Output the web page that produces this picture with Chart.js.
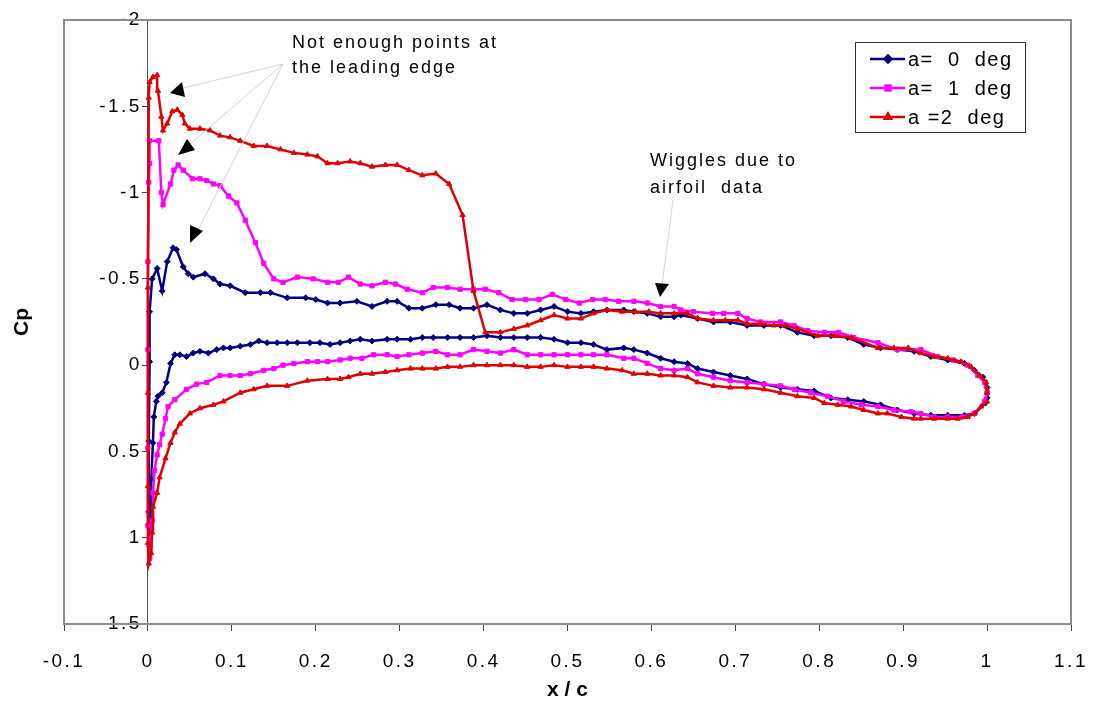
<!DOCTYPE html>
<html>
<head>
<meta charset="utf-8">
<script src="https://cdn.jsdelivr.net/npm/chart.js@4.4.1/dist/chart.umd.min.js"></script>
<style>
  html, body { margin: 0; padding: 0; background: #fff; }
  #wrap { width: 1094px; height: 702px; }
</style>
</head>
<body>
<div id="wrap"><canvas id="cpChart" width="1094" height="702"></canvas></div>
<script>
// series labels
const seriesNames = ["a=  0  deg", "a=  1  deg", "a =2  deg"]

// a = 0 deg : trailing edge -> upper surface -> leading edge -> lower surface -> trailing edge
const x0 = [1.0, 1.0, 0.995, 0.985, 0.973, 0.953, 0.933, 0.913, 0.893, 0.873, 0.853, 0.834, 0.814, 0.794, 0.774, 0.754, 0.734, 0.714, 0.694, 0.674, 0.655, 0.635, 0.627, 0.611, 0.595, 0.579, 0.567, 0.547, 0.531, 0.516, 0.5, 0.484, 0.468, 0.452, 0.436, 0.42, 0.404, 0.388, 0.372, 0.359, 0.343, 0.327, 0.311, 0.297, 0.285, 0.267, 0.249, 0.229, 0.214, 0.2, 0.188, 0.166, 0.146, 0.134, 0.116, 0.098, 0.086, 0.078, 0.068, 0.054, 0.048, 0.042, 0.034, 0.03, 0.023, 0.017, 0.011, 0.005, 0.002, 0.002, 0.001, 0.001, 0.002, 0.003, 0.004, 0.006, 0.007, 0.01, 0.012, 0.017, 0.022, 0.027, 0.032, 0.038, 0.046, 0.054, 0.062, 0.072, 0.082, 0.09, 0.098, 0.11, 0.122, 0.132, 0.142, 0.154, 0.166, 0.178, 0.193, 0.205, 0.217, 0.229, 0.241, 0.253, 0.267, 0.285, 0.297, 0.313, 0.327, 0.34, 0.357, 0.372, 0.388, 0.404, 0.42, 0.436, 0.452, 0.468, 0.484, 0.5, 0.516, 0.531, 0.547, 0.567, 0.579, 0.595, 0.611, 0.627, 0.643, 0.655, 0.674, 0.694, 0.714, 0.734, 0.754, 0.774, 0.794, 0.814, 0.834, 0.853, 0.873, 0.893, 0.913, 0.933, 0.953, 0.973, 0.985, 0.998, 1.0]
const cp0 = [0.19, 0.13, 0.07, 0.03, -0.01, -0.03, -0.05, -0.08, -0.09, -0.1, -0.12, -0.16, -0.17, -0.17, -0.19, -0.23, -0.23, -0.23, -0.25, -0.25, -0.27, -0.29, -0.28, -0.28, -0.3, -0.31, -0.32, -0.32, -0.31, -0.3, -0.31, -0.34, -0.32, -0.3, -0.3, -0.32, -0.35, -0.33, -0.33, -0.35, -0.35, -0.33, -0.33, -0.37, -0.37, -0.34, -0.37, -0.36, -0.36, -0.38, -0.39, -0.39, -0.42, -0.42, -0.42, -0.46, -0.47, -0.5, -0.53, -0.51, -0.53, -0.57, -0.67, -0.68, -0.6, -0.43, -0.56, -0.5, -0.31, -0.02, 0.44, 0.85, 1.05, 0.93, 0.66, 0.45, 0.3, 0.21, 0.18, 0.16, 0.1, -0.01, -0.06, -0.06, -0.05, -0.07, -0.08, -0.07, -0.09, -0.1, -0.1, -0.11, -0.12, -0.14, -0.13, -0.13, -0.13, -0.13, -0.13, -0.13, -0.12, -0.13, -0.14, -0.15, -0.14, -0.15, -0.15, -0.15, -0.16, -0.16, -0.16, -0.16, -0.16, -0.17, -0.16, -0.16, -0.16, -0.16, -0.15, -0.13, -0.13, -0.12, -0.09, -0.1, -0.09, -0.07, -0.04, -0.02, -0.01, 0.02, 0.04, 0.06, 0.08, 0.11, 0.13, 0.14, 0.15, 0.19, 0.2, 0.21, 0.23, 0.26, 0.28, 0.29, 0.29, 0.29, 0.28, 0.22, 0.19]

// a = 1 deg
const x1 = [1.0, 0.997, 0.989, 0.977, 0.96, 0.941, 0.921, 0.893, 0.87, 0.841, 0.823, 0.806, 0.786, 0.77, 0.754, 0.73, 0.714, 0.703, 0.686, 0.673, 0.65, 0.635, 0.627, 0.611, 0.595, 0.579, 0.561, 0.545, 0.53, 0.514, 0.498, 0.482, 0.466, 0.45, 0.434, 0.418, 0.402, 0.388, 0.372, 0.357, 0.34, 0.327, 0.309, 0.295, 0.283, 0.267, 0.253, 0.239, 0.227, 0.214, 0.197, 0.178, 0.161, 0.15, 0.138, 0.128, 0.116, 0.106, 0.096, 0.086, 0.078, 0.07, 0.062, 0.053, 0.042, 0.036, 0.031, 0.027, 0.018, 0.016, 0.013, 0.002, 0.002, 0.001, 0.0, 0.0, 0.0, 0.0, 0.002, 0.005, 0.006, 0.008, 0.011, 0.014, 0.017, 0.021, 0.024, 0.032, 0.046, 0.058, 0.07, 0.086, 0.098, 0.11, 0.122, 0.138, 0.15, 0.161, 0.174, 0.19, 0.202, 0.214, 0.229, 0.241, 0.255, 0.269, 0.285, 0.297, 0.311, 0.327, 0.343, 0.357, 0.372, 0.388, 0.404, 0.42, 0.436, 0.452, 0.468, 0.484, 0.5, 0.516, 0.531, 0.547, 0.567, 0.579, 0.595, 0.611, 0.627, 0.643, 0.655, 0.674, 0.694, 0.714, 0.734, 0.754, 0.77, 0.79, 0.81, 0.829, 0.85, 0.87, 0.889, 0.909, 0.921, 0.937, 0.953, 0.97, 0.985, 0.997, 1.0]
const cp1 = [0.16, 0.1, 0.06, 0.0, -0.03, -0.05, -0.09, -0.09, -0.13, -0.16, -0.19, -0.19, -0.2, -0.23, -0.25, -0.25, -0.27, -0.3, -0.3, -0.3, -0.31, -0.32, -0.34, -0.34, -0.36, -0.37, -0.37, -0.38, -0.38, -0.36, -0.38, -0.41, -0.38, -0.38, -0.38, -0.42, -0.44, -0.44, -0.44, -0.45, -0.45, -0.42, -0.44, -0.47, -0.48, -0.46, -0.47, -0.51, -0.48, -0.48, -0.5, -0.51, -0.48, -0.5, -0.59, -0.71, -0.84, -0.94, -0.98, -1.04, -1.05, -1.07, -1.08, -1.08, -1.13, -1.16, -1.13, -1.05, -0.93, -1.0, -1.3, -1.3, -1.17, -1.06, -0.6, -0.09, 0.48, 0.93, 1.12, 0.9, 0.74, 0.61, 0.52, 0.46, 0.4, 0.31, 0.24, 0.2, 0.14, 0.11, 0.1, 0.06, 0.06, 0.06, 0.05, 0.03, 0.02, 0.0, -0.01, -0.02, -0.02, -0.02, -0.03, -0.04, -0.04, -0.06, -0.06, -0.05, -0.06, -0.07, -0.08, -0.06, -0.06, -0.09, -0.08, -0.07, -0.09, -0.06, -0.06, -0.06, -0.06, -0.06, -0.06, -0.06, -0.04, -0.04, -0.01, 0.02, 0.03, 0.02, 0.05, 0.07, 0.09, 0.1, 0.11, 0.12, 0.14, 0.16, 0.18, 0.21, 0.23, 0.24, 0.26, 0.27, 0.28, 0.3, 0.3, 0.3, 0.28, 0.21, 0.16]

// a = 2 deg
const x2 = [1.0, 0.999, 0.991, 0.981, 0.969, 0.953, 0.937, 0.921, 0.906, 0.889, 0.87, 0.838, 0.818, 0.798, 0.774, 0.76, 0.746, 0.73, 0.714, 0.703, 0.688, 0.674, 0.655, 0.643, 0.627, 0.611, 0.597, 0.581, 0.565, 0.547, 0.531, 0.516, 0.5, 0.484, 0.468, 0.452, 0.436, 0.42, 0.402, 0.388, 0.375, 0.359, 0.343, 0.327, 0.311, 0.297, 0.283, 0.267, 0.253, 0.241, 0.226, 0.214, 0.202, 0.19, 0.174, 0.158, 0.142, 0.126, 0.11, 0.098, 0.086, 0.074, 0.062, 0.05, 0.044, 0.041, 0.035, 0.029, 0.023, 0.018, 0.016, 0.012, 0.011, 0.006, 0.002, 0.001, 0.0, 0.0, 0.0, 0.0, 0.001, 0.004, 0.005, 0.006, 0.011, 0.014, 0.021, 0.027, 0.032, 0.038, 0.05, 0.062, 0.078, 0.09, 0.11, 0.126, 0.142, 0.166, 0.19, 0.214, 0.229, 0.239, 0.253, 0.267, 0.283, 0.297, 0.313, 0.327, 0.343, 0.357, 0.372, 0.388, 0.404, 0.42, 0.436, 0.452, 0.468, 0.484, 0.5, 0.516, 0.531, 0.547, 0.565, 0.579, 0.595, 0.611, 0.627, 0.643, 0.655, 0.674, 0.694, 0.714, 0.734, 0.754, 0.774, 0.794, 0.806, 0.822, 0.838, 0.853, 0.87, 0.881, 0.898, 0.913, 0.921, 0.937, 0.953, 0.965, 0.977, 0.985, 0.993, 1.0]
const cp2 = [0.16, 0.1, 0.06, 0.01, -0.02, -0.04, -0.05, -0.07, -0.1, -0.1, -0.1, -0.16, -0.17, -0.17, -0.21, -0.23, -0.23, -0.24, -0.24, -0.26, -0.26, -0.26, -0.27, -0.3, -0.3, -0.3, -0.31, -0.31, -0.31, -0.32, -0.3, -0.27, -0.27, -0.29, -0.26, -0.23, -0.21, -0.19, -0.19, -0.43, -0.87, -1.05, -1.11, -1.1, -1.13, -1.16, -1.16, -1.15, -1.17, -1.18, -1.17, -1.17, -1.21, -1.22, -1.23, -1.25, -1.27, -1.27, -1.3, -1.32, -1.33, -1.36, -1.37, -1.37, -1.4, -1.45, -1.48, -1.47, -1.4, -1.36, -1.44, -1.59, -1.68, -1.67, -1.64, -1.55, -0.45, 0.16, 0.7, 1.03, 1.15, 1.09, 0.97, 0.82, 0.74, 0.65, 0.54, 0.45, 0.39, 0.34, 0.28, 0.25, 0.23, 0.21, 0.16, 0.14, 0.12, 0.12, 0.09, 0.08, 0.08, 0.07, 0.05, 0.05, 0.04, 0.03, 0.02, 0.02, 0.02, 0.01, 0.01, 0.0, 0.0, 0.0, 0.0, 0.01, 0.01, 0.0, 0.01, 0.01, 0.01, 0.02, 0.03, 0.05, 0.05, 0.06, 0.06, 0.07, 0.1, 0.12, 0.13, 0.13, 0.14, 0.16, 0.18, 0.19, 0.22, 0.23, 0.24, 0.26, 0.28, 0.28, 0.3, 0.31, 0.31, 0.31, 0.31, 0.31, 0.3, 0.28, 0.24, 0.21]

// axis ticks
const xTicks = { min: -0.1, max: 1.1, step: 0.1 }
const yTicks = { min: -2, max: 1.5, step: 0.5 }

const colors = ["#000080", "#ff00ff", "#e00000"]
const markers = ["rectRot", "rect", "triangle"]
const FONT = "'Liberation Sans', Arial, sans-serif"

function pts(xs, ys) {
    return xs.map((x, i) => ({ x: x, y: ys[i] }))
}

const fmt = (v) => String(Math.round(v * 10) / 10)

const extras = {
    id: "extras",
    beforeDraw(chart) {
        chart.ctx.letterSpacing = "2.5px"
        // pull the y labels off the axis line (object-positioned axis draws them flush)
        const items = chart.scales.y.getLabelItems(chart.chartArea)
        if (!items._shifted) {
            items.forEach(it => { it.options.translation[0] -= 6 })
            items._shifted = true
        }
    },
    beforeDatasetsDraw(chart) {
        const { ctx, chartArea: a } = chart
        ctx.save()
        ctx.strokeStyle = "#8c8c8c"
        ctx.lineWidth = 2
        ctx.strokeRect(a.left, a.top, a.right - a.left, a.bottom - a.top)
        ctx.restore()
    },
    afterDraw(chart) {
        const ctx = chart.ctx
        const a = chart.chartArea
        ctx.save()
        ctx.letterSpacing = "0px"
        ctx.fillStyle = "#000"

        // axis titles
        ctx.font = "bold 21px " + FONT
        ctx.textAlign = "center"
        ctx.textBaseline = "middle"
        ctx.fillText("x / c", (a.left + a.right) / 2, 690)
        ctx.save()
        ctx.translate(22, (a.top + a.bottom) / 2)
        ctx.rotate(-Math.PI / 2)
        ctx.fillText("Cp", 0, 0)
        ctx.restore()

        // annotation leader lines
        ctx.strokeStyle = "#d4d4d4"
        ctx.lineWidth = 1
        const leaders = [[283, 64, 183, 88], [283, 64, 190, 144], [283, 64, 198, 230], [673, 200, 662, 285]]
        leaders.forEach(l => {
            ctx.beginPath()
            ctx.moveTo(l[0], l[1])
            ctx.lineTo(l[2], l[3])
            ctx.stroke()
        })

        // arrow heads
        const heads = [
            [[170, 93], [182, 82], [185, 97]],
            [[178, 155], [187, 139], [195, 150]],
            [[190, 225], [190, 243], [203, 231]],
            [[655, 283], [669, 284], [660, 297]],
        ]
        heads.forEach(h => {
            ctx.beginPath()
            ctx.moveTo(h[0][0], h[0][1])
            ctx.lineTo(h[1][0], h[1][1])
            ctx.lineTo(h[2][0], h[2][1])
            ctx.closePath()
            ctx.fill()
        })

        // annotation text
        ctx.font = "18px " + FONT
        ctx.letterSpacing = "2px"
        ctx.textAlign = "left"
        ctx.fillText("Not enough points at", 292, 43)
        ctx.fillText("the leading edge", 292, 68)
        ctx.fillText("Wiggles due to", 650, 161)
        ctx.fillText("airfoil  data", 650, 188)

        // legend
        ctx.letterSpacing = "1.5px"
        ctx.strokeStyle = "#333"
        ctx.lineWidth = 1
        ctx.strokeRect(855.5, 42.5, 170, 90)
        ctx.font = "20px " + FONT
        const rows = [59, 88, 117]
        rows.forEach((y, i) => {
            ctx.strokeStyle = colors[i]
            ctx.fillStyle = colors[i]
            ctx.lineWidth = 2.5
            ctx.beginPath()
            ctx.moveTo(870, y)
            ctx.lineTo(905, y)
            ctx.stroke()
            Chart.helpers.drawPoint(ctx, { pointStyle: markers[i], radius: 3.5, borderWidth: 1 }, 888, y)
            ctx.fillStyle = "#000"
            ctx.fillText(seriesNames[i], 908, y + 1)
        })
        ctx.restore()
    },
}

const allX = [x0, x1, x2]
const allCp = [cp0, cp1, cp2]

new Chart(document.getElementById("cpChart").getContext("2d"), {
    type: "line",
    data: {
        datasets: allX.map((xs, i) => ({
            label: seriesNames[i],
            data: pts(xs, allCp[i]),
            borderColor: colors[i],
            backgroundColor: colors[i],
            borderWidth: 2.5,
            pointStyle: markers[i],
            pointRadius: 3,
            pointBorderWidth: 1,
            tension: 0,
            fill: false,
            order: 2 - i,
        })),
    },
    options: {
        responsive: false,
        animation: false,
        events: [],
        layout: { padding: { left: 64, right: 23, top: 20, bottom: 0 } },
        plugins: {
            legend: { display: false },
            tooltip: { enabled: false },
        },
        scales: {
            x: {
                type: "linear",
                position: "bottom",
                min: xTicks.min,
                max: xTicks.max,
                afterFit: (s) => {
                    s.height = 78
                    s.paddingLeft = 0
                    s.paddingRight = 0
                },
                ticks: {
                    stepSize: xTicks.step,
                    callback: fmt,
                    color: "#000",
                    font: { family: FONT, size: 19 },
                    padding: 19,
                    maxRotation: 0,
                    autoSkip: false,
                },
                grid: { drawOnChartArea: false, drawTicks: true, tickLength: 7, color: "#444" },
                border: { display: true, color: "#333", width: 2 },
            },
            y: {
                type: "linear",
                reverse: true,
                position: { x: 0 },
                min: yTicks.min,
                max: yTicks.max,
                ticks: {
                    stepSize: yTicks.step,
                    callback: fmt,
                    color: "#000",
                    font: { family: FONT, size: 19 },
                },
                grid: { drawOnChartArea: false, drawTicks: true, tickLength: 5, color: "#444" },
                border: { display: true, color: "#555", width: 1 },
            },
        },
    },
    plugins: [extras],
})
</script>
</body>
</html>
